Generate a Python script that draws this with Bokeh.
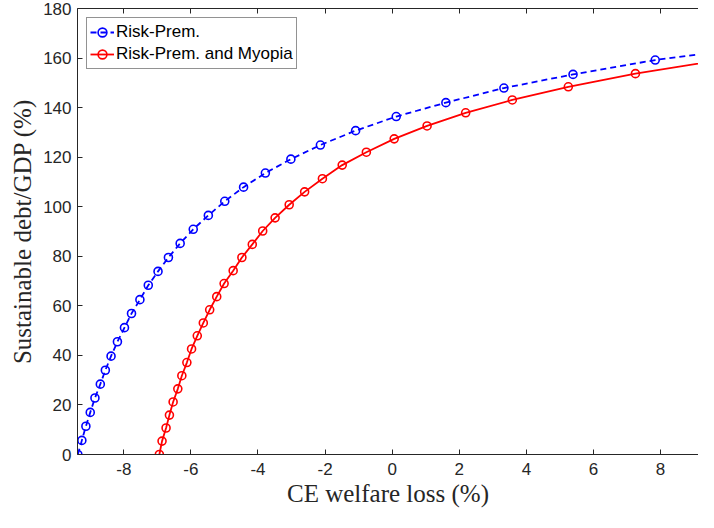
from bokeh.plotting import figure
from bokeh.models import Range1d, LinearAxis, FixedTicker, CustomJSTickFormatter
from bokeh.embed import file_html
from bokeh.resources import INLINE

# ---- data ----
x_ticks = [-8, -6, -4, -2, 0, 2, 4, 6, 8]
y_ticks = [0, 20, 40, 60, 80, 100, 120, 140, 160, 180]

# Risk-Prem. (markers), plus the line's end point
rp_x = [-9.37, -9.25, -9.13, -9.00, -8.86, -8.70, -8.55, -8.38, -8.19, -7.98,
        -7.77, -7.52, -7.27, -6.98, -6.67, -6.32, -5.93, -5.48, -4.99, -4.43,
        -3.78, -3.02, -2.14, -1.09, 0.12, 1.60, 3.33, 5.39, 7.84]
rp_y = [0.0, 5.7, 11.4, 17.0, 22.8, 28.4, 34.0, 39.7, 45.5, 51.2,
        56.9, 62.5, 68.3, 73.9, 79.5, 85.2, 90.9, 96.5, 102.2, 107.9,
        113.6, 119.2, 124.9, 130.7, 136.4, 142.0, 147.9, 153.4, 159.2]
rp_end_x = 9.58
rp_end_y = 162.3

# Risk-Prem. and Myopia (markers), plus the line's end point
rpm_x = [-6.94, -6.86, -6.74, -6.64, -6.53, -6.39, -6.27, -6.12, -5.98, -5.81,
         -5.63, -5.44, -5.23, -5.01, -4.74, -4.48, -4.17, -3.86, -3.49, -3.07,
         -2.61, -2.08, -1.49, -0.77, 0.06, 1.04, 2.19, 3.58, 5.25, 7.25]
rpm_y = [0.0, 5.4, 10.7, 15.9, 21.2, 26.5, 31.8, 37.1, 42.6, 47.9,
         53.1, 58.4, 63.7, 69.0, 74.2, 79.5, 84.8, 90.2, 95.5, 100.8,
         106.0, 111.3, 116.8, 122.0, 127.4, 132.6, 137.9, 143.1, 148.4, 153.7]
rpm_end_x = 9.58
rpm_end_y = 158.8

label_rp = "Risk-Prem."
label_rpm = "Risk-Prem. and Myopia"
x_title = "CE welfare loss (%)"
y_title = "Sustainable debt/GDP (%)"

AX = "#262626"
TICK_FONT = "Liberation Sans"
TITLE_FONT = "Liberation Serif"

p = figure(width=698, height=512, output_backend="svg", toolbar_location=None,
           x_range=Range1d(-9.38, 9.13), y_range=Range1d(0, 180),
           min_border_left=77, min_border_right=0, min_border_top=8,
           min_border_bottom=58)
p.grid.visible = False
p.outline_line_color = None
p.background_fill_color = "white"
p.border_fill_color = "white"

for ax, ticks in ((p.xaxis[0], x_ticks), (p.yaxis[0], y_ticks)):
    ax.ticker = FixedTicker(ticks=ticks)
    ax.major_tick_in = 5
    ax.major_tick_out = 0
    ax.minor_tick_line_color = None
    ax.axis_line_color = AX
    ax.major_tick_line_color = AX
    ax.major_label_text_color = AX
    ax.major_label_text_font = TICK_FONT
    ax.major_label_text_font_size = "17px"
    ax.axis_label_text_font = TITLE_FONT
    ax.axis_label_text_font_size = "25px"
    ax.axis_label_text_font_style = "normal"
    ax.axis_label_text_color = AX

p.xaxis[0].formatter = CustomJSTickFormatter(code="return String(tick);")
p.xaxis[0].axis_label = x_title
p.xaxis[0].major_label_standoff = 8
p.xaxis[0].axis_label_standoff = 2
p.yaxis[0].axis_label = y_title
p.yaxis[0].major_label_standoff = 6
p.yaxis[0].axis_label_standoff = 4

top = LinearAxis(ticker=FixedTicker(ticks=x_ticks), major_tick_in=5, major_tick_out=0,
                 minor_tick_line_color=None, axis_line_color=AX,
                 major_tick_line_color=AX,
                 formatter=CustomJSTickFormatter(code="return '';"),
                 major_label_standoff=0)
p.add_layout(top, "above")

# lines
p.line(rp_x + [rp_end_x], rp_y + [rp_end_y], line_color="#0000FF", line_width=1.8,
       line_dash="6 4", legend_label=label_rp)
p.scatter(rp_x, rp_y, marker="circle", size=8, line_color="#0000FF",
          line_width=1.6, fill_color=None, legend_label=label_rp)

p.line(rpm_x + [rpm_end_x], rpm_y + [rpm_end_y], line_color="#FF0000", line_width=1.8,
       legend_label=label_rpm)
p.scatter(rpm_x, rpm_y, marker="circle", size=8, line_color="#FF0000",
          line_width=1.6, fill_color=None, legend_label=label_rpm)

lg = p.legend[0]
lg.location = "top_left"
lg.margin = 9
lg.padding = 3
lg.spacing = 0
lg.glyph_width = 24
lg.glyph_height = 22
lg.label_height = 22
lg.label_standoff = 2
lg.label_text_font = TICK_FONT
lg.label_text_font_size = "17px"
lg.label_text_color = "black"
lg.border_line_color = AX
lg.border_line_width = 1
lg.background_fill_color = "white"
lg.background_fill_alpha = 1.0

open("out.html", "w").write(file_html(p, INLINE))
